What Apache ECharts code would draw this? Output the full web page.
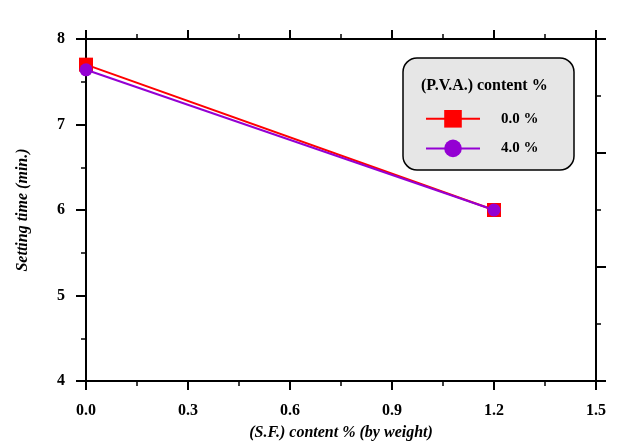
<!DOCTYPE html>
<html>
<head>
<meta charset="utf-8">
<script src="https://cdn.jsdelivr.net/npm/echarts@6/dist/echarts.min.js"></script>
<style>
html,body{margin:0;padding:0;background:#fff;}
#container{width:637px;height:442px;}
</style>
</head>
<body>
<div id="container"></div>
<script>
var sfContent=[0.0,1.2];
var pva0=[7.70,6.00];
var pva4=[7.64,6.00];
var seriesNames=['0.0 %','4.0 %'];
var legendTitle='(P.V.A.) content %';
var xTitle='(S.F.) content % (by weight)';
var yTitle='Setting time (min.)';

var dom=document.getElementById('container');
var myChart=echarts.init(dom);
var font='"Liberation Serif", "Times New Roman", serif';

function pairs(xs,ys){
    var out=[];
    for(var i=0;i<xs.length;i++){
        out.push([xs[i],ys[i]]);
    }
    return out;
}

var option={
    backgroundColor:'#fff',
    animation:false,
    grid:{left:86,right:41,top:39,bottom:61,outerBoundsMode:'none'},
    graphic:[{
        type:'rect',
        shape:{x:403,y:58,width:171,height:112,r:14},
        style:{fill:'#e6e6e6',stroke:'#000',lineWidth:1.5},
        z:5
    },{
        type:'text',
        left:421,top:78,
        style:{text:legendTitle,fill:'#000',font:'bold 16px '+font},
        z:6
    }],
    legend:{
        left:420,top:105,
        orient:'vertical',
        itemWidth:54,itemHeight:22,itemGap:12,
        textStyle:{fontFamily:font,fontWeight:'bold',fontSize:15,color:'#000',padding:[0,0,0,16]},
        data:seriesNames,
        z:7
    },
    xAxis:[{
        type:'value',min:0,max:1.5,interval:0.3,
        position:'bottom',
        axisLine:{onZero:false,lineStyle:{color:'#000',width:2}},
        axisTick:{inside:false,length:9,lineStyle:{color:'#000',width:2}},
        minorTick:{show:true,splitNumber:2,length:5,lineStyle:{color:'#000',width:1.5}},
        splitLine:{show:false},
        axisLabel:{margin:22,fontFamily:font,fontWeight:'bold',fontSize:16,color:'#000',
            formatter:function(v){return v.toFixed(1);}},
        name:xTitle,nameLocation:'middle',nameGap:44,
        nameTextStyle:{fontFamily:font,fontWeight:'bold',fontStyle:'italic',fontSize:16,color:'#000'}
    },{
        type:'value',min:0,max:1.5,interval:0.3,
        position:'top',
        axisLine:{onZero:false,lineStyle:{color:'#000',width:2}},
        axisTick:{inside:false,length:9,lineStyle:{color:'#000',width:2}},
        minorTick:{show:true,splitNumber:2,length:5,lineStyle:{color:'#000',width:1.5}},
        splitLine:{show:false},
        axisLabel:{show:false}
    }],
    yAxis:[{
        type:'value',min:4,max:8,interval:1,
        position:'left',
        axisLine:{onZero:false,lineStyle:{color:'#000',width:2}},
        axisTick:{inside:false,length:10,lineStyle:{color:'#000',width:2}},
        minorTick:{show:true,splitNumber:2,length:5,lineStyle:{color:'#000',width:1.5}},
        splitLine:{show:false},
        axisLabel:{margin:21,fontFamily:font,fontWeight:'bold',fontSize:16,color:'#000'},
        name:yTitle,nameLocation:'middle',nameGap:55,
        nameTextStyle:{fontFamily:font,fontWeight:'bold',fontStyle:'italic',fontSize:16,color:'#000'}
    },{
        type:'value',min:0,max:6,interval:2,
        position:'right',
        axisLine:{onZero:false,lineStyle:{color:'#000',width:2}},
        axisTick:{inside:false,length:10,lineStyle:{color:'#000',width:2}},
        minorTick:{show:true,splitNumber:2,length:5,lineStyle:{color:'#000',width:1.5}},
        splitLine:{show:false},
        axisLabel:{show:false}
    }],
    series:[{
        name:seriesNames[0],
        type:'line',
        data:pairs(sfContent,pva0),
        symbol:'rect',symbolSize:14,
        lineStyle:{color:'#ff0000',width:2},
        itemStyle:{color:'#ff0000'},
        z:3
    },{
        name:seriesNames[1],
        type:'line',
        data:pairs(sfContent,pva4),
        symbol:'circle',symbolSize:13,
        lineStyle:{color:'#9400d3',width:2},
        itemStyle:{color:'#9400d3'},
        z:4
    }]
};

if (option && typeof option === "object") {
    myChart.setOption(option, true);
}
</script>
</body>
</html>
